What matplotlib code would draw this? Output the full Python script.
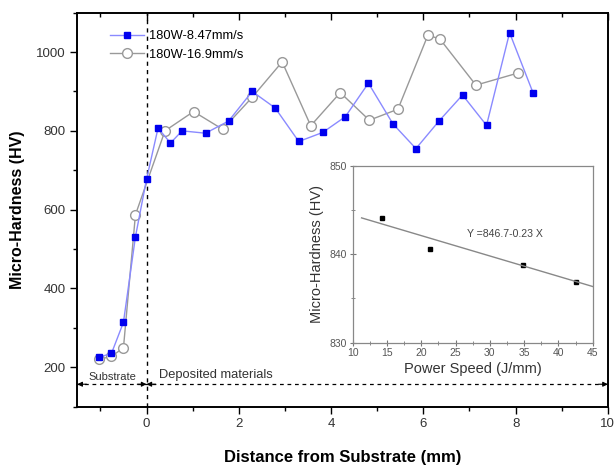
import numpy as np
import matplotlib
matplotlib.use("Agg")
import matplotlib.pyplot as plt
from matplotlib.ticker import MultipleLocator

plt.rcParams['font.family'] = ['Liberation Sans', 'DejaVu Sans']

# Series 1 : 180W-8.47mm/s
x_a = [-1.02, -0.76, -0.50, -0.24, 0.0, 0.25, 0.52, 0.77, 1.28, 1.78, 2.29, 2.79,
       3.30, 3.82, 4.31, 4.81, 5.34, 5.84, 6.34, 6.85, 7.37, 7.87, 8.38]
y_a = [226, 235, 314, 531, 677, 807, 769, 800, 794, 825, 900, 858,
       773, 796, 836, 921, 818, 755, 825, 891, 814, 1049, 896]

# Series 2 : 180W-16.9mm/s
x_b = [-1.02, -0.76, -0.50, -0.24, 0.40, 1.02, 1.65, 2.29, 2.94, 3.56, 4.20,
       4.83, 5.45, 6.10, 6.36, 7.14, 8.06]
y_b = [220, 228, 249, 587, 800, 849, 804, 885, 975, 813, 897,
       827, 855, 1043, 1033, 916, 947]

labels = ["180W-8.47mm/s", "180W-16.9mm/s"]

# Inset data
ps = [14.24, 21.26, 34.86, 42.5]
hv = [844.1, 840.6, 838.75, 836.9]
fit_a, fit_b = 846.7, -0.23
fit_x = [11.3, 45]

fig = plt.figure(figsize=(6.14, 4.68), dpi=100)
ax = fig.add_axes([0.1259, 0.131, 0.8641, 0.842])

ax.plot(x_a, y_a, '-', color='#8a8aff', lw=1.0, marker='s', ms=5,
        mfc='#0000ee', mec='#0000ee', label=labels[0], zorder=3)
ax.plot(x_b, y_b, '-', color='#999999', lw=1.0, marker='o', ms=7,
        mfc='white', mec='#999999', label=labels[1], zorder=2)

ax.set_xlim(-1.5, 10)
ax.set_ylim(100, 1100)
ax.xaxis.set_major_locator(MultipleLocator(2))
ax.xaxis.set_minor_locator(MultipleLocator(1))
ax.yaxis.set_major_locator(MultipleLocator(200))
ax.yaxis.set_minor_locator(MultipleLocator(100))
ax.set_yticks([200, 400, 600, 800, 1000])
ax.tick_params(which='both', direction='out', labelsize=9.5,
               labelcolor='#333333', width=1.0)
ax.tick_params(which='major', length=5)
ax.tick_params(which='minor', length=3)
for s in ax.spines.values():
    s.set_linewidth(1.2)

# top ticks point inward
top = ax.twiny()
top.set_xlim(ax.get_xlim())
top.xaxis.set_major_locator(MultipleLocator(2))
top.xaxis.set_minor_locator(MultipleLocator(1))
top.tick_params(axis='x', which='both', direction='in', width=1.0,
                top=True, bottom=False, labeltop=False, labelbottom=False)
top.tick_params(which='major', length=5)
top.tick_params(which='minor', length=3)
for s in top.spines.values():
    s.set_linewidth(1.2)

ax.set_xlabel("Distance from Substrate (mm)", fontsize=12, fontweight='bold', labelpad=14)
ax.set_ylabel("Micro-Hardness (HV)", fontsize=11.5, fontweight='bold', labelpad=8)

# region markers
ax.axvline(0, color='k', ls=(0, (3, 3)), lw=1.0, zorder=1)
y_arr = 157
ax.plot([-1.5, 10], [y_arr, y_arr], color='k', ls=(0, (3, 3)), lw=0.9, clip_on=False)
for x0, x1 in [(-1.3, -1.5), (-0.2, 0), (0.2, 0), (9.8, 10)]:
    ax.annotate('', xy=(x1, y_arr), xytext=(x0, y_arr),
                arrowprops=dict(arrowstyle='-|>', color='k', lw=0.8,
                                mutation_scale=7, shrinkA=0, shrinkB=0),
                annotation_clip=False)
ax.text(-0.74, 176, "Substrate", fontsize=8, color='#333333', ha='center', va='center')
ax.text(0.28, 180, "Deposited materials", fontsize=9.3, color='#333333', ha='left', va='center')

leg = ax.legend(loc='upper left', bbox_to_anchor=(0.04, 0.985), frameon=False,
                fontsize=9.3, handlelength=2.6, handletextpad=0.4, labelspacing=0.5)

# inset
ins = fig.add_axes([0.5744, 0.2677, 0.3909, 0.3783])
ins.plot(ps, hv, 's', color='k', ms=2.5)
fx = np.array(fit_x)
ins.plot(fx, fit_a + fit_b * fx, '-', color='#888888', lw=1.0)
ins.set_xlim(10, 45)
ins.set_ylim(830, 850)
ins.xaxis.set_major_locator(MultipleLocator(5))
ins.xaxis.set_minor_locator(MultipleLocator(2.5))
ins.yaxis.set_major_locator(MultipleLocator(10))
ins.yaxis.set_minor_locator(MultipleLocator(5))
ins.tick_params(which='both', direction='inout', labelsize=7.5, labelcolor='#555555',
                color='#777777', pad=2)
ins.tick_params(which='major', length=4)
ins.tick_params(which='minor', length=3)
for s in ins.spines.values():
    s.set_color('#888888')
    s.set_linewidth(0.9)
ins.set_xlabel("Power Speed (J/mm)", fontsize=10.5, color='#333333', labelpad=3)
ins.set_ylabel("Micro-Hardness (HV)", fontsize=10.5, color='#333333', labelpad=4)
ins.text(26.6, 842.3, "Y =846.7-0.23 X", fontsize=7.6, color='#444444', va='center')

fig.savefig("out.png", dpi=100)
